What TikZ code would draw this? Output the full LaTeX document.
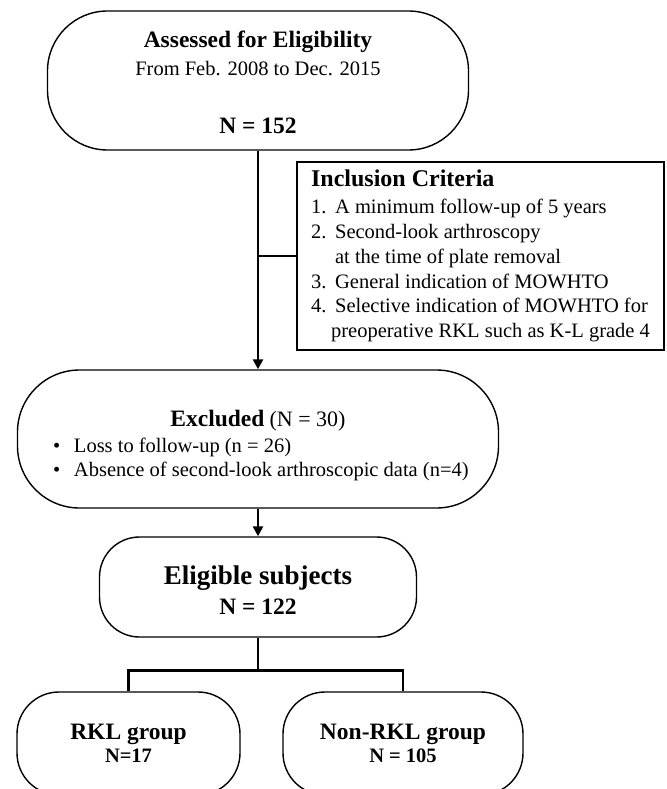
\documentclass[tikz,border=0pt]{standalone}
\usepackage{fontspec}
\setmainfont{Liberation Serif}
\usetikzlibrary{arrows.meta}
\begin{document}
\begin{tikzpicture}[x=1pt, y=-1pt,
  roundbox/.style={draw=black, line width=1.4pt, rounded corners=#1, align=center, inner sep=0pt},
  critbox/.style={draw=black, line width=1.4pt, align=left, inner sep=0pt},
  link/.style={-, line width=2.5pt, draw=black},
  arrowlink/.style={link, -{Triangle[length=10pt, width=10pt]}}]
\useasboundingbox (0,0) rectangle (666,789);
\clip (0,0) rectangle (666,789);
% boxes
\node[roundbox=60pt, minimum width=421pt, minimum height=139pt, font=\fontsize{20.5}{28.5}\selectfont] (assessed) at (258, 80.5)
  {{\fontsize{23.5}{28}\selectfont\bfseries\rule{0pt}{20pt}Assessed for Eligibility}\\
   From Feb. 2008 to Dec. 2015\\[29pt]
   {\fontsize{23.5}{28}\selectfont\bfseries N = 152}};
\node[critbox, minimum width=367pt, minimum height=188pt, font=\fontsize{20.5}{24.9}\selectfont] (criteria) at (480.5, 256)
  {{\fontsize{24}{26}\selectfont\bfseries Inclusion Criteria}\\[2pt]
   \makebox[24pt][l]{1.}A minimum follow-up of 5 years\\
   \makebox[24pt][l]{2.}Second-look arthroscopy\\
   \hspace*{24pt}at the time of plate removal\\
   \makebox[24pt][l]{3.}General indication of MOWHTO\\
   \makebox[24pt][l]{4.}Selective indication of MOWHTO for\\
   \hspace*{20pt}preoperative RKL such as K-L grade 4};
\node[roundbox=62pt, minimum width=481pt, minimum height=138pt, font=\fontsize{20.5}{24.5}\selectfont] (excluded) at (258, 439)
  {\rule{0pt}{30pt}{\fontsize{23.5}{28}\selectfont\bfseries Excluded} {\fontsize{22}{28}\selectfont (N = 30)}\\[1pt]
   \makebox[410pt][l]{\makebox[21pt][l]{\textbullet}Loss to follow-up (n = 26)}\\
   \makebox[410pt][l]{\makebox[21pt][l]{\textbullet}Absence of second-look arthroscopic data (n=4)}};
\node[roundbox=40pt, minimum width=317pt, minimum height=100pt, font=\fontsize{23.5}{30}\selectfont\bfseries] (eligible) at (258, 587)
  {{\fontsize{27}{30}\selectfont\rule{0pt}{24pt}Eligible subjects}\\
   N = 122};
\node[roundbox=42pt, minimum width=223pt, minimum height=103pt, font=\fontsize{20.5}{23.5}\selectfont\bfseries] (rkl) at (128.5, 743.5)
  {{\fontsize{23.5}{23}\selectfont RKL group}\\
   N=17};
\node[roundbox=42pt, minimum width=240pt, minimum height=103pt, font=\fontsize{20.5}{23.5}\selectfont\bfseries] (nonrkl) at (403, 743.5)
  {{\fontsize{23.5}{23}\selectfont Non-RKL group}\\
   N = 105};
% connectors
\path [arrowlink] (assessed) edge (excluded);
\draw [link] (criteria.west) -- (criteria.west -| assessed.south);
\path [arrowlink] (excluded) edge (eligible);
\draw [link] (eligible.south) -- ++(0,33) coordinate (split) -| (rkl.north);
\draw [link] (split) -| (nonrkl.north);
\end{tikzpicture}
\end{document}
